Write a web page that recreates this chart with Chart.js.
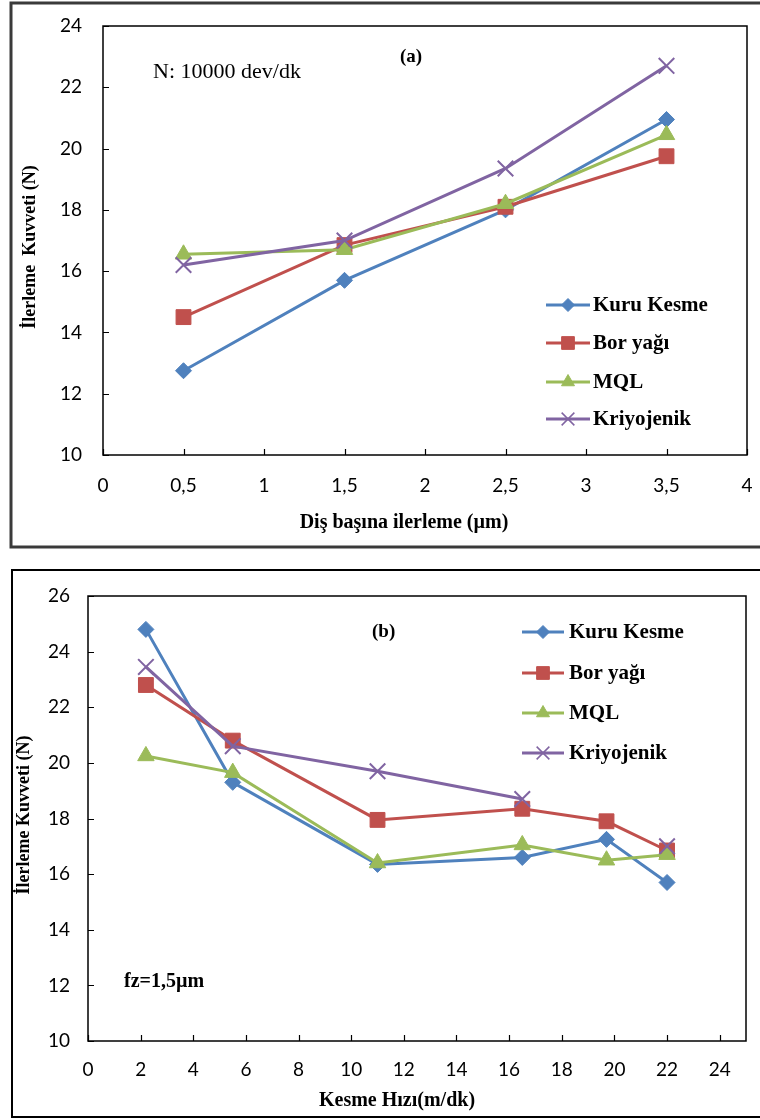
<!DOCTYPE html>
<html lang="tr">
<head>
<meta charset="UTF-8">
<title>İlerleme Kuvveti</title>
<script src="https://cdn.jsdelivr.net/npm/chart.js"></script>
<style>
  body { margin: 0; background: #fff; }
  #wrap { position: relative; width: 760px; height: 1120px; }
  canvas { position: absolute; left: 0; }
  #chartA { top: 0; }
  #chartB { top: 560px; }
</style>
</head>
<body>
<div id="wrap">
  <canvas id="chartA" width="760" height="550"></canvas>
  <canvas id="chartB" width="760" height="560"></canvas>
</div>
<script>
// series shared by both panels
const seriesNames = ['Kuru Kesme', 'Bor yağı', 'MQL', 'Kriyojenik'];
const seriesColors = ['#4F81BD', '#C0504D', '#9BBB59', '#8064A2'];
const pointStyles = ['rectRot', 'rect', 'triangle', 'crossRot'];

// (a) feed per tooth vs force
const feedA = [0.5, 1.5, 2.5, 3.5];
const kuruA = [12.75, 15.7, 18.0, 20.95];
const borA = [14.5, 16.85, 18.1, 19.75];
const mqlA = [16.55, 16.7, 18.2, 20.45];
const kriyoA = [16.2, 17.0, 19.35, 22.7];

// (b) cutting speed vs force (Kriyojenik has no value at 19.7)
const speedB = [2.2, 5.5, 11, 16.5, 19.7, 22];
const kuruB = [24.8, 19.3, 16.35, 16.6, 17.25, 15.7];
const borB = [22.8, 20.8, 17.95, 18.35, 17.9, 16.85];
const mqlB = [20.25, 19.65, 16.4, 17.05, 16.5, 16.7];
const kriyoB = [23.45, 20.6, 19.7, 18.7, null, 17.0];

const pointRadius = [8, 10.5, 9.5, 11];
const legendRadius = [6.5, 9, 7.5, 9];
const serif = '"Liberation Serif", "Times New Roman", serif';
const tickFont = { family: 'Lato, "Open Sans", sans-serif', size: 19 };

function toPoints(xs, ys) {
  return xs.map((x, i) => ({ x: x, y: ys[i] }));
}

function makeDatasets(xs, ysList) {
  return seriesNames.map((name, i) => ({
    label: name,
    data: toPoints(xs, ysList[i]),
    borderColor: seriesColors[i],
    backgroundColor: seriesColors[i],
    pointBackgroundColor: seriesColors[i],
    pointBorderColor: seriesColors[i],
    pointStyle: pointStyles[i],
    pointRadius: pointRadius[i],
    pointBorderWidth: i === 3 ? 2 : 1,
    borderWidth: 3,
    tension: 0,
    spanGaps: false,
    order: 3 - i
  }));
}

function commaFmt(v) {
  return String(v).replace('.', ',');
}

// frame, inside tick marks, axis titles, notes and legend
function panelPlugin(p) {
  return {
    id: 'panel',
    afterDraw(chart) {
      const ctx = chart.ctx;
      const a = chart.chartArea;
      ctx.save();

      // outer frame
      ctx.strokeStyle = p.frameColor;
      ctx.lineWidth = p.frameWidth;
      ctx.strokeRect(p.frame[0], p.frame[1], p.frame[2] - p.frame[0], p.frame[3] - p.frame[1]);

      // plot area box
      ctx.strokeStyle = '#000';
      ctx.lineWidth = 1.5;
      ctx.strokeRect(a.left, a.top, a.right - a.left, a.bottom - a.top);

      // inside ticks
      ctx.lineWidth = 1.2;
      ctx.beginPath();
      chart.scales.x.ticks.forEach(t => {
        const px = Math.round(chart.scales.x.getPixelForValue(t.value)) + 0.5;
        ctx.moveTo(px, a.bottom);
        ctx.lineTo(px, a.bottom - 6);
      });
      chart.scales.y.ticks.forEach(t => {
        const py = Math.round(chart.scales.y.getPixelForValue(t.value)) + 0.5;
        ctx.moveTo(a.left, py);
        ctx.lineTo(a.left + 6, py);
      });
      ctx.stroke();

      // axis titles
      ctx.fillStyle = '#000';
      ctx.textAlign = 'center';
      ctx.textBaseline = 'middle';
      ctx.font = 'bold ' + p.xTitleSize + 'px ' + serif;
      ctx.fillText(p.xTitle, p.xTitlePos[0], p.xTitlePos[1]);
      ctx.save();
      ctx.translate(p.yTitlePos[0], p.yTitlePos[1]);
      ctx.rotate(-Math.PI / 2);
      ctx.font = 'bold 18px ' + serif;
      ctx.fillText(p.yTitle, 0, 0);
      ctx.restore();

      // notes
      ctx.textAlign = 'left';
      p.notes.forEach(n => {
        ctx.font = n.font;
        ctx.fillText(n.text, n.x, n.y);
      });

      // legend
      chart.data.datasets.forEach((ds, i) => {
        const y = p.legendRows[i];
        ctx.strokeStyle = ds.borderColor;
        ctx.lineWidth = 3;
        ctx.beginPath();
        ctx.moveTo(p.legendLine[0], y);
        ctx.lineTo(p.legendLine[1], y);
        ctx.stroke();
        ctx.fillStyle = ds.borderColor;
        ctx.lineWidth = i === 3 ? 1.5 : 1;
        Chart.helpers.drawPoint(ctx, {
          pointStyle: ds.pointStyle,
          radius: legendRadius[i],
          rotation: 0,
          borderWidth: ctx.lineWidth
        }, (p.legendLine[0] + p.legendLine[1]) / 2, y);
        ctx.fillStyle = '#000';
        ctx.font = 'bold 21px ' + serif;
        ctx.fillText(ds.label, p.legendText, y + 1);
      });

      ctx.restore();
    }
  };
}

function makeOptions(o) {
  return {
    responsive: false,
    animation: false,
    layout: { padding: o.padding },
    plugins: { legend: { display: false }, tooltip: { enabled: false } },
    scales: {
      x: {
        type: 'linear',
        min: o.xMin, max: o.xMax,
        afterFit(scale) {
          scale.height = o.xHeight;
          scale.paddingLeft = 0;
          scale.paddingRight = 0;
        },
        grid: { display: false, drawTicks: false },
        border: { display: false },
        ticks: {
          stepSize: o.xStep,
          includeBounds: false,
          maxRotation: 0,
          autoSkip: false,
          padding: o.xTickPad,
          color: '#000',
          font: tickFont,
          callback: commaFmt
        }
      },
      y: {
        min: o.yMin, max: o.yMax,
        afterFit(scale) {
          scale.width = o.yWidth;
          scale.paddingTop = 0;
          scale.paddingBottom = 0;
        },
        grid: { display: false, drawTicks: false },
        border: { display: false },
        ticks: {
          stepSize: 2,
          padding: o.yTickPad,
          color: '#000',
          font: tickFont,
          callback: commaFmt
        }
      }
    }
  };
}

new Chart(document.getElementById('chartA'), {
  type: 'line',
  data: { datasets: makeDatasets(feedA, [kuruA, borA, mqlA, kriyoA]) },
  options: makeOptions({
    padding: { top: 26, right: 10, left: 0, bottom: 0 },
    xMin: 0, xMax: 4, xStep: 0.5, xHeight: 95, xTickPad: 19,
    yMin: 10, yMax: 24, yWidth: 103, yTickPad: 21
  }),
  plugins: [panelPlugin({
    frame: [11, 3, 762, 547], frameColor: '#3a3a3a', frameWidth: 3,
    xTitle: 'Diş başına ilerleme (µm)', xTitleSize: 20, xTitlePos: [404, 523],
    yTitle: 'İlerleme  Kuvveti (N)', yTitlePos: [30, 247],
    notes: [
      { text: 'N: 10000 dev/dk', x: 153, y: 72, font: '22px ' + serif },
      { text: '(a)', x: 400, y: 57, font: 'bold 19px ' + serif }
    ],
    legendRows: [305, 343, 382, 419], legendLine: [546, 590], legendText: 593
  })]
});

new Chart(document.getElementById('chartB'), {
  type: 'line',
  data: { datasets: makeDatasets(speedB, [kuruB, borB, mqlB, kriyoB]) },
  options: makeOptions({
    padding: { top: 36, right: 14, left: 0, bottom: 0 },
    xMin: 0, xMax: 25, xStep: 2, xHeight: 79, xTickPad: 17,
    yMin: 10, yMax: 26, yWidth: 88, yTickPad: 18
  }),
  plugins: [panelPlugin({
    frame: [12, 10, 762, 557], frameColor: '#000', frameWidth: 2,
    xTitle: 'Kesme Hızı(m/dk)', xTitleSize: 20, xTitlePos: [397, 541],
    yTitle: 'İlerleme Kuvveti (N)', yTitlePos: [24, 255],
    notes: [
      { text: '(b)', x: 372, y: 72, font: 'bold 19px ' + serif },
      { text: 'fz=1,5µm', x: 124, y: 422, font: 'bold 20px ' + serif }
    ],
    legendRows: [72, 113, 153, 193], legendLine: [522, 564], legendText: 569
  })]
});
</script>
</body>
</html>
